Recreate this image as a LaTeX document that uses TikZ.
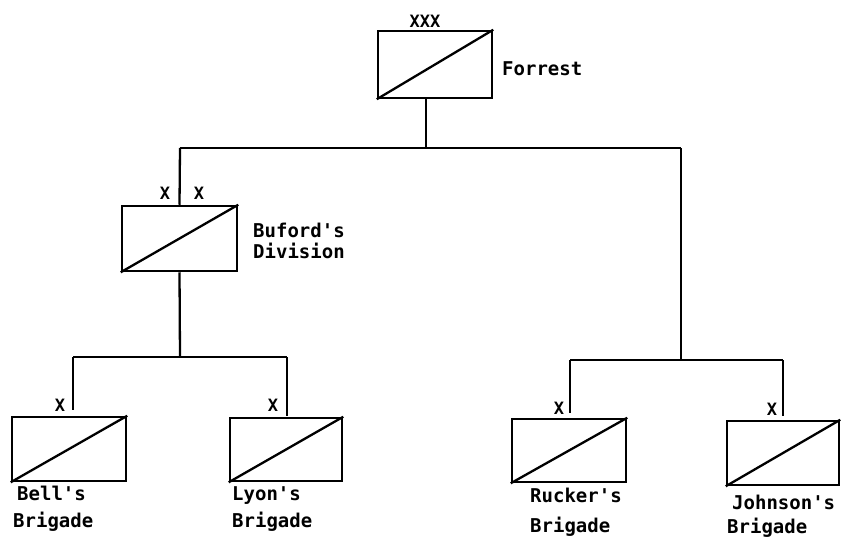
\documentclass[tikz,border=0pt]{standalone}
\usepackage{fontspec}
\setmonofont{DejaVu Sans Mono}
\newcommand{\tline}[3]{\vtop{\baselineskip=#1\hbox{#2}\hbox{#3}}}
\tikzset{
  unit/.style={draw, line width=2.5pt, minimum width=#1, inner sep=0pt},
  unit/.default=114pt,
  lbl/.style={anchor=base west, inner sep=0pt, font=\ttfamily\bfseries\fontsize{19}{21}\selectfont},
  ech/.style={anchor=base, inner sep=0pt, font=\ttfamily\bfseries\fontsize{17}{19}\selectfont},
  conn/.style={line width=2.3pt},
  diag/.style={line width=2.3pt}
}
\begin{document}
\begin{tikzpicture}[x=1pt,y=-1pt]
\useasboundingbox (0,0) rectangle (848,541);
% boxes
\node[unit=114pt, minimum height=67pt] (forrest) at (435,64.5) {};
\node[unit=115pt, minimum height=65pt] (buford) at (179.5,238.5) {};
\node[unit=114pt, minimum height=64pt] (bell) at (69,449) {};
\node[unit=112pt, minimum height=63pt] (lyon) at (286,449.5) {};
\node[unit=114pt, minimum height=63pt] (rucker) at (569,450.5) {};
\node[unit=112pt, minimum height=64pt] (johnson) at (783,453) {};
\foreach \b in {forrest,buford,bell,lyon,rucker,johnson}
  \draw[diag] (\b.south west) -- (\b.north east);
% echelon marks
\node[ech] (xf) at (425,27) {XXX};
\node[ech] (xb1) at (165,199) {X};
\node[ech] (xb2) at (199,199) {X};
\node[ech] (xbe) at (60,411) {X};
\node[ech] (xly) at (273,411) {X};
\node[ech] (xru) at (559,414) {X};
\node[ech] (xjo) at (772,415) {X};
% labels
\node[lbl] (lf) at (502,75) {Forrest};
\node[lbl] (lb) at (253,237) {\tline{21pt}{Buford's}{Division}};
\node[lbl] (lbe) at (17,500) {\tline{27pt}{Bell's}{\kern-4pt Brigade}};
\node[lbl] (lly) at (232,500) {\tline{27pt}{Lyon's}{Brigade}};
\node[lbl] (lru) at (530,502) {\tline{30pt}{Rucker's}{Brigade}};
\node[lbl] (ljo) at (732,509) {\tline{24pt}{Johnson's}{\kern-5pt Brigade}};
% junctions
\coordinate (jt) at (426,148);
\coordinate (jl) at (180,148);
\coordinate (jr) at (681,148);
\coordinate (jbl) at (73,357);
\coordinate (jbr) at (287,357);
\coordinate (jbm) at (180,357);
\coordinate (jrl) at (570,360);
\coordinate (jrr) at (783,360);
\coordinate (jrm) at (681,360);
\coordinate (ebe) at (73,410);
\coordinate (ely) at (287,416);
\coordinate (eru) at (570,413);
\coordinate (ejo) at (783,416);
% connectors
\draw[conn] (forrest.south -| jt) -- (jt);
\draw[conn] (jl) -- (jr);
\draw[conn] (jl) -- (buford.north);
\draw[conn] (buford.south) -- (jbm);
\draw[conn] (jbl) -- (jbr);
\draw[conn] (jbl) -- (ebe);
\draw[conn] (jbr) -- (ely);
\draw[conn] (jr) -- (jrm);
\draw[conn] (jrl) -- (jrr);
\draw[conn] (jrl) -- (eru);
\draw[conn] (jrr) -- (ejo);
\end{tikzpicture}
\end{document}
